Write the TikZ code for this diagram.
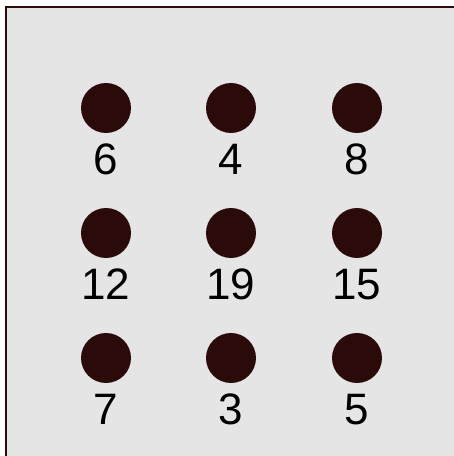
\documentclass[tikz,border=0pt]{standalone}
\usepackage{fontspec}
\setmainfont{Liberation Sans}
\usepackage{xcolor}
\usepackage{tikz}
\usetikzlibrary{positioning}

\definecolor{dotbrown}{HTML}{2B0A0A}
\definecolor{panelgray}{HTML}{E5E5E5}

\begin{document}
\begin{tikzpicture}[
    x=0.5pt, y=0.5pt,
    every node/.style={font=\fontsize{22pt}{26pt}\selectfont},
    dot/.style={circle, fill=dotbrown, inner sep=0pt, minimum size=25pt},
    num/.style={inner sep=0pt, text height=15.75pt, text depth=0pt,
      below=4.75pt of #1}
  ]
  \useasboundingbox (0, 0) rectangle (454, 456);
  % panel
  \fill[panelgray] (6, 0) rectangle (454, 448.5);
  \draw[dotbrown, line width=1pt] (6, 0) -- (6, 448.5) -- (454, 448.5);
  % top row
  \node[dot] (d1) at (106, 348) {};
  \node[dot] (d2) at (231, 348) {};
  \node[dot] (d3) at (357, 348) {};
  \node[num=d1] (n1) {6};
  \node[num=d2] (n2) {4};
  \node[num=d3] (n3) {8};
  % middle row
  \node[dot] (d4) at (106, 223) {};
  \node[dot] (d5) at (231, 223) {};
  \node[dot] (d6) at (357, 223) {};
  \node[num=d4] (n4) {12};
  \node[num=d5] (n5) {19};
  \node[num=d6] (n6) {15};
  % bottom row
  \node[dot] (d7) at (106, 98) {};
  \node[dot] (d8) at (231, 98) {};
  \node[dot] (d9) at (357, 98) {};
  \node[num=d7] (n7) {7};
  \node[num=d8] (n8) {3};
  \node[num=d9] (n9) {5};
\end{tikzpicture}
\end{document}
